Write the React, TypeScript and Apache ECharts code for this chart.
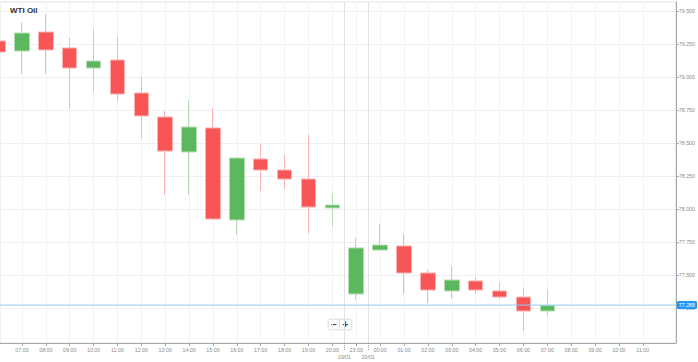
import React, { useEffect, useRef } from "react";
import * as echarts from "echarts";

// hour categories (index = position on the x axis)
const hourLabels = [
  "06:00", "07:00", "08:00", "09:00", "10:00", "11:00", "12:00", "13:00", "14:00",
  "15:00", "16:00", "17:00", "18:00", "19:00", "20:00", "23:00", "00:00", "01:00",
  "02:00", "03:00", "04:00", "05:00", "06:00", "07:00", "08:00", "09:00", "10:00", "11:00",
];
// session/date separators (between categories)
const datePositions = [14.5, 15.5];
const dateLabels = ["19/01", "20/01"];

// OHLC for the first 24 hours that have candles
const opens = [
  79.273, 79.197, 79.341, 79.22, 79.068, 79.129, 78.879, 78.697, 78.432, 78.614, 77.917, 78.379,
  78.295, 78.227, 78.008, 77.356, 77.689, 77.72, 77.515, 77.379, 77.455, 77.379, 77.333, 77.227,
];
const closes = [
  79.189, 79.333, 79.205, 79.068, 79.121, 78.871, 78.705, 78.439, 78.621, 77.924, 78.386, 78.295,
  78.227, 78.015, 78.03, 77.705, 77.727, 77.515, 77.386, 77.462, 77.386, 77.333, 77.227, 77.268,
];
const lows = [
  79.18, 79.023, 79.023, 78.758, 78.886, 78.818, 78.538, 78.106, 78.106, 77.92, 77.803, 78.136,
  78.152, 77.818, 77.871, 77.311, 77.685, 77.356, 77.288, 77.318, 77.356, 77.318, 77.076, 77.189,
];
const highs = [
  79.28, 79.409, 79.477, 79.295, 79.364, 79.303, 79.0, 78.742, 78.826, 78.765, 78.39, 78.492,
  78.409, 78.561, 78.121, 77.78, 77.886, 77.811, 77.538, 77.568, 77.485, 77.447, 77.402, 77.394,
];

const priceTicks = [77.25, 77.5, 77.75, 78.0, 78.25, 78.5, 78.75, 79.0, 79.25, 79.5];
const currentPriceLevel = 77.272;
const currentPriceText = "77.288";
const title = "WTI Oil";

const X_MIN = 1 - 22 / 23.92;
const X_MAX = 1 + 655 / 23.92;
const Y_MIN = 76.9848;
const Y_MAX = 79.5682;

export default function App() {
  const ref = useRef<HTMLDivElement>(null);
  useEffect(() => {
    if (!ref.current) return;
    const chart = echarts.init(ref.current, null, { renderer: "svg" });
    const data = opens.map((o, i) => [i, o, closes[i], lows[i], highs[i]]);
    const hourIdx = hourLabels.map((_, i) => i);
    const font = "Liberation Sans";
    chart.setOption({
      animation: false,
      title: {
        text: title,
        left: 10,
        top: 6,
        padding: 0,
        textStyle: { fontSize: 8, fontWeight: "bold", fontFamily: font, color: "#333333" },
      },
      grid: {
        left: 0,
        right: 21,
        top: 2,
        bottom: 19,
        show: true,
        borderColor: "#e4e4e4",
        borderWidth: 1,
      },
      xAxis: [
        {
          type: "value",
          min: X_MIN,
          max: X_MAX,
          position: "bottom",
          axisLine: { show: true, onZero: false, lineStyle: { color: "#a6a6a6", width: 1 } },
          axisTick: { show: true, length: 3, customValues: hourIdx, lineStyle: { color: "#a6a6a6" } },
          axisLabel: {
            customValues: hourIdx,
            formatter: (v: number) => hourLabels[Math.round(v)] ?? "",
            fontSize: 5.3,
            fontFamily: font,
            color: "#8a8a8a",
            margin: 4,
          },
          splitLine: { show: true, lineStyle: { color: "#f3f3f3", width: 1 } },
        },
        {
          type: "value",
          min: X_MIN,
          max: X_MAX,
          position: "bottom",
          axisLine: { show: false },
          axisTick: {
            show: true,
            length: 8,
            customValues: datePositions,
            lineStyle: { color: "#9a9a9a", type: [1, 1] },
          },
          axisLabel: {
            customValues: datePositions,
            formatter: (v: number) => {
              const k = datePositions.findIndex((p) => Math.abs(p - v) < 1e-6);
              return k >= 0 ? dateLabels[k] : "";
            },
            fontSize: 5.3,
            fontFamily: font,
            color: "#8a8a8a",
            margin: 11,
          },
          splitLine: { show: true, lineStyle: { color: "#e2e2e2", width: 1 } },
        },
      ],
      yAxis: {
        type: "value",
        position: "right",
        min: Y_MIN,
        max: Y_MAX,
        axisLine: { show: true, lineStyle: { color: "#a6a6a6", width: 1 } },
        axisTick: { show: true, length: 3, customValues: priceTicks, lineStyle: { color: "#a6a6a6" } },
        axisLabel: {
          customValues: priceTicks,
          formatter: (v: number) => v.toFixed(3),
          fontSize: 5.3,
          fontFamily: font,
          color: "#8a8a8a",
          margin: 3,
        },
        splitLine: { show: true, lineStyle: { color: "#f0f0f0", width: 1 } },
      },
      series: [
        {
          type: "candlestick",
          xAxisIndex: 0,
          yAxisIndex: 0,
          barWidth: 15,
          encode: { x: 0, y: [1, 2, 3, 4] },
          data,
          itemStyle: {
            color: "#5cb85c",
            color0: "#f85656",
            borderColor: "#b5ddb5",
            borderColor0: "#fbb3b3",
            borderWidth: 1,
          },
          emphasis: { disabled: true },
        },
        {
          type: "line",
          xAxisIndex: 0,
          yAxisIndex: 0,
          data: [
            [X_MIN, currentPriceLevel],
            [X_MAX, currentPriceLevel],
          ],
          symbol: "none",
          silent: true,
          z: 5,
          lineStyle: { color: "#8fcbf5", width: 1 },
          itemStyle: { color: "#8fcbf5" },
          emphasis: { disabled: true },
          endLabel: {
            show: true,
            distance: 1,
            formatter: currentPriceText,
            color: "#ffffff",
            backgroundColor: "#2196f3",
            fontSize: 5.3,
            fontFamily: font,
            padding: [1.5, 2],
            borderRadius: 1.5,
          },
        },
      ],
      graphic: [
        {
          type: "group",
          left: 328,
          top: 319,
          children: [
            {
              type: "rect",
              shape: { x: 0, y: 0, width: 11, height: 10, r: 1 },
              style: { fill: "#ffffff", stroke: "#e3e3e3", lineWidth: 1, shadowBlur: 2, shadowColor: "rgba(0,0,0,0.12)" },
            },
            {
              type: "rect",
              shape: { x: 11, y: 0, width: 12, height: 10, r: 1 },
              style: { fill: "#ffffff", stroke: "#e3e3e3", lineWidth: 1, shadowBlur: 2, shadowColor: "rgba(0,0,0,0.12)" },
            },
            {
              type: "text",
              x: 5.5,
              y: 5,
              style: { text: "−", fontSize: 10, fontWeight: "bold", fill: "#444", align: "center", verticalAlign: "middle", fontFamily: font },
            },
            {
              type: "text",
              x: 17,
              y: 5,
              style: { text: "+", fontSize: 10, fontWeight: "bold", fill: "#444", align: "center", verticalAlign: "middle", fontFamily: font },
            },
          ],
        },
      ],
    });
    return () => chart.dispose();
  }, []);
  return (
    <div
      ref={ref}
      style={{ position: "absolute", left: 0, top: 0, width: 698, height: 362, background: "#fff" }}
    />
  );
}
